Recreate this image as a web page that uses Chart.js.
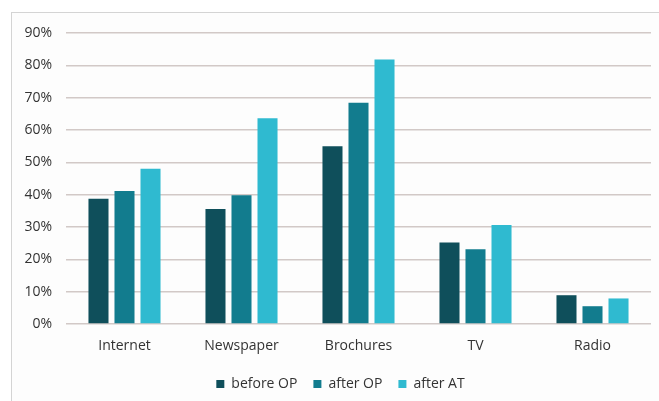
<!DOCTYPE html>
<html>
<head>
<meta charset="utf-8">
<script src="https://cdn.jsdelivr.net/npm/chart.js@4.4.1/dist/chart.umd.min.js"></script>
<style>
  html, body { margin: 0; padding: 0; background: #ffffff; }
  #wrap { position: relative; width: 659px; height: 401px; overflow: hidden; }
  #frame { position: absolute; left: 11px; top: 12px; width: 700px; height: 450px;
           border: 1px solid #d4d4d4; background: #fdfdfd; box-sizing: border-box; }
  #chart { position: absolute; left: 0; top: 0; }
</style>
</head>
<body>
<div id="wrap">
  <div id="frame"></div>
  <canvas id="chart" width="659" height="401"></canvas>
</div>
<script>
// Media channels surveyed
const categories = ['Internet', 'Newspaper', 'Brochures', 'TV', 'Radio'];

// Share of respondents (%) per survey stage
const beforeOP = [38.7, 35.6, 55.0, 25.2, 8.9];
const afterOP  = [41.1, 39.8, 68.4, 23.1, 5.5];
const afterAT  = [48.0, 63.6, 81.8, 30.6, 7.9];

const seriesNames = ['before OP', 'after OP', 'after AT'];
const seriesColors = ['#0f4f5b', '#127c8e', '#2fbad0'];

const yTicks = [0, 10, 20, 30, 40, 50, 60, 70, 80, 90];

const textColor = '#333333';
const fontFamily = '"Open Sans", "Liberation Sans", sans-serif';

// Centre the legend under the plot region rather than the whole canvas
const legendShift = {
  id: 'legendShift',
  afterLayout(chart) {
    const lg = chart.legend;
    if (lg) {
      lg.left += 30;
      lg.adjustHitBoxes();
    }
  }
};

new Chart(document.getElementById('chart'), {
  type: 'bar',
  data: {
    labels: categories,
    datasets: [beforeOP, afterOP, afterAT].map((values, i) => ({
      label: seriesNames[i],
      data: values,
      backgroundColor: seriesColors[i],
      borderWidth: 0,
      categoryPercentage: 0.667,
      barPercentage: 0.77
    }))
  },
  plugins: [legendShift],
  options: {
    responsive: false,
    animation: false,
    layout: { padding: { top: 33, right: 8, left: 0, bottom: 0 } },
    plugins: {
      tooltip: { enabled: false },
      legend: {
        position: 'bottom',
        labels: {
          boxWidth: 8,
          boxHeight: 8,
          padding: 16,
          color: textColor,
          font: { family: fontFamily, size: 14 }
        }
      }
    },
    scales: {
      x: {
        grid: { display: false, drawTicks: false },
        border: { display: false },
        ticks: { color: textColor, font: { family: fontFamily, size: 14 }, padding: 14 },
        afterFit: (scale) => { scale.height = 37; }
      },
      y: {
        min: 0,
        max: 90,
        afterBuildTicks: (scale) => { scale.ticks = yTicks.map(v => ({ value: v })); },
        grid: { color: '#d2c9c7', lineWidth: 1.5, drawTicks: false },
        border: { display: false },
        ticks: {
          color: textColor,
          font: { family: fontFamily, size: 14 },
          padding: 14,
          callback: (v) => v + '%'
        },
        afterFit: (scale) => { scale.width = 66; }
      }
    }
  }
});
</script>
</body>
</html>
